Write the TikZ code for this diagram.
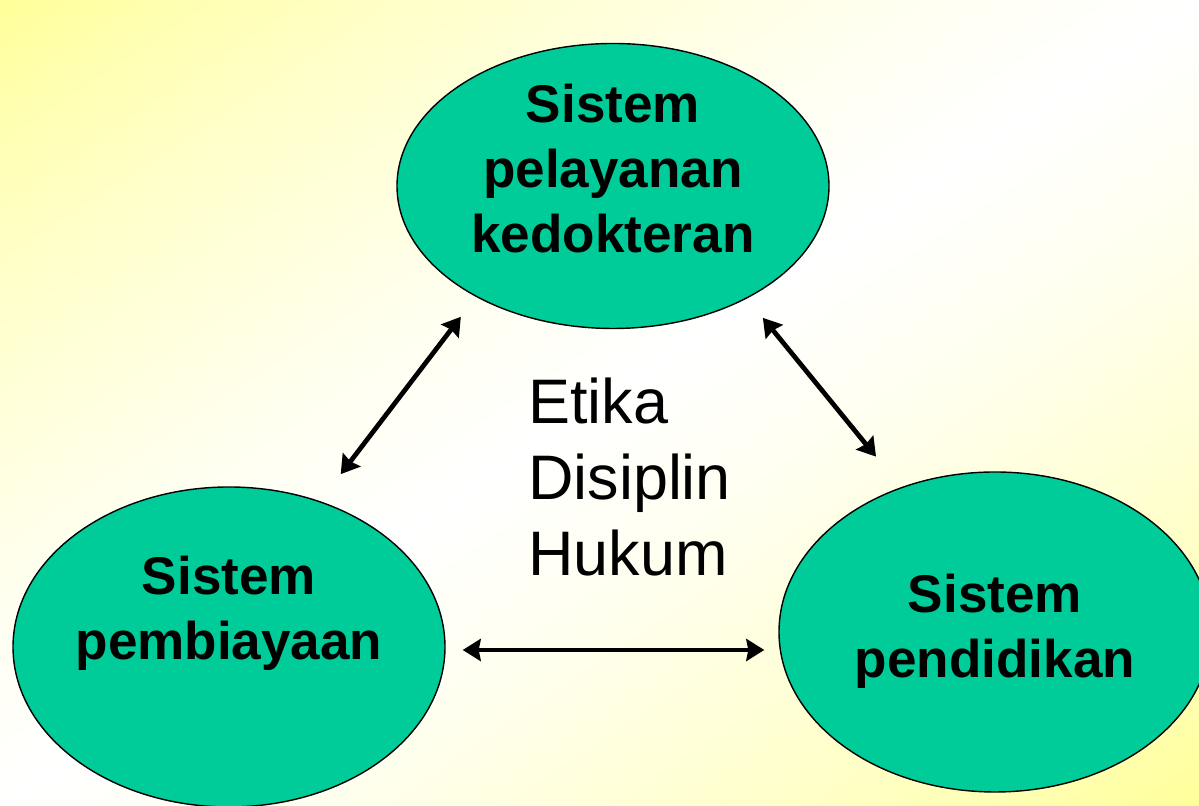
\documentclass[tikz,border=0pt]{standalone}
\usepackage{fontspec}
\setmainfont{Liberation Sans}
\usetikzlibrary{arrows.meta,shapes.geometric}
\definecolor{bubblegreen}{RGB}{0,204,153}
\definecolor{paleyellow}{RGB}{255,255,153}
\pgfdeclareverticalshading{cornerglow}{100bp}{color(0bp)=(paleyellow); color(25bp)=(paleyellow); color(29bp)=(paleyellow!75!white); color(34bp)=(paleyellow!52!white); color(39bp)=(paleyellow!32!white); color(44bp)=(paleyellow!14!white); color(50bp)=(white); color(56bp)=(paleyellow!14!white); color(61bp)=(paleyellow!32!white); color(66bp)=(paleyellow!52!white); color(71bp)=(paleyellow!75!white); color(75bp)=(paleyellow); color(100bp)=(paleyellow)}

\begin{document}
\begin{tikzpicture}[bubble/.style={ellipse,draw=black,line width=0.8pt,fill=bubblegreen,minimum width=8.64cm,minimum height=6.4cm,inner sep=0pt},
	bubbletext/.style={align=center,font=\fontsize{30.2}{37}\selectfont\bfseries},
	twoway/.style={<->,>={Stealth[length=0.36cm,width=0.44cm,inset=0.04cm]},line width=2.7pt}]

	\useasboundingbox (0,0) rectangle (23.98,16.12);
	\begin{scope}
		\clip (0,0) rectangle (23.98,16.12);
		\shade[shading=cornerglow, transform canvas={rotate around={33.9:(11.99,8.06)}}] (-4.01,-5.32) rectangle (27.99,21.44);
	\end{scope}

	\node[bubble, minimum height=5.7cm] (care) at (12.26,12.4) {};
	\node[bubble] (funding) at (4.58,3.18) {};
	\node[bubble] (education) at (19.9,3.48) {};

	\node[bubbletext] (caretext) at ([yshift=0.34cm]care) {Sistem\\pelayanan\\kedokteran};
	\node[bubbletext] (fundingtext) at ([yshift=0.68cm]funding) {Sistem\\pembiayaan};
	\node[bubbletext] (educationtext) at ([yshift=0.02cm]education) {Sistem\\pendidikan};

	\node[align=left, anchor=west, font=\fontsize{35.8}{43}\selectfont] (values) at (10.44,6.58) {Etika\\Disiplin\\Hukum};

	\path[twoway] (funding.58.8) edge[shorten <=0.68cm, shorten >=0.5cm] (care.219.9);
	\path[twoway] (care.320.3) edge[shorten <=0.5cm, shorten >=0.79cm] (education.123.7);
	\path[twoway] ([yshift=-0.06cm]funding.east) edge[shorten <=0.34cm, shorten >=0.28cm] ([yshift=-0.06cm]funding.east -| education.west);

	%\draw[dashed] (care) -- (values);

\end{tikzpicture}
\end{document}
